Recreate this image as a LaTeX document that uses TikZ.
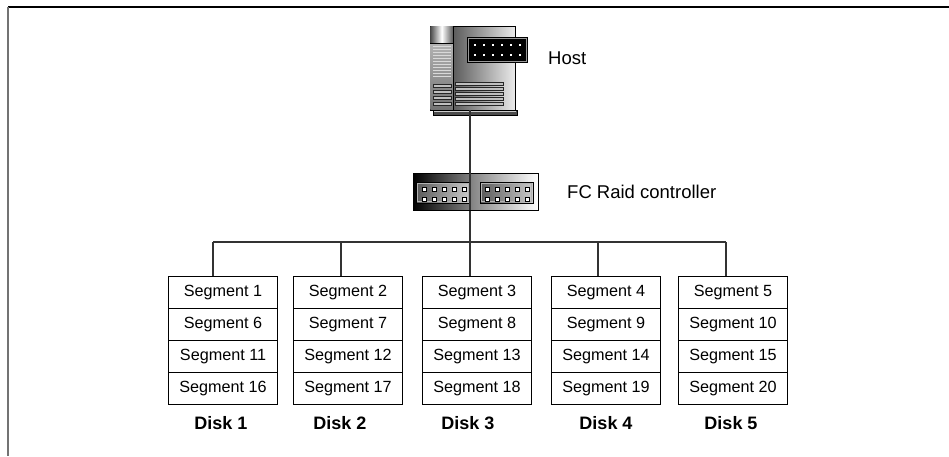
\documentclass[tikz,border=0pt]{standalone}
\usepackage{fontspec}
\setmainfont{Liberation Sans}
\begin{document}
\begin{tikzpicture}[x=1pt,y=-1pt,
  seg/.style={draw=black, line width=1.1pt, minimum width=109pt, minimum height=32pt,
    inner sep=0pt, anchor=north west, font=\fontsize{16.2}{19}\selectfont},
  disklabel/.style={inner sep=0pt, font=\fontsize{18}{21}\selectfont\bfseries},
  lbl/.style={inner sep=0pt, anchor=west, font=\fontsize{18.5}{22}\selectfont},
  wire/.style={draw=black!80, line width=1.2pt},
  slat/.style={draw=black!85, line width=0.5pt, fill=black!25},
  led/.style={draw=black, line width=0.5pt, fill=white},
  panel/.style={draw=black, line width=0.8pt, left color=black!65, right color=black!20},
]
\useasboundingbox (0,0) rectangle (949,456);
\fill[white] (0,0) rectangle (949,456);

% page frame
\draw[black, line width=1.6pt] (8,7) -- (949,7);
\draw[black!55, line width=2.2pt] (8,7) -- (8,456);

% ---------- host computer ----------
\node[draw=black, line width=0.8pt, minimum width=85pt, minimum height=84pt, inner sep=0pt,
      left color=black!85, right color=black!8] (host) at (472.5,68) {};
% base plate
\fill[black!70] (433,110) rectangle (517,115);
\draw[black, line width=0.6pt] (433,110) rectangle (517,115);
\fill[black!20] (434,110.5) rectangle (516,111.5);
% side column
\shade[top color=black!30, bottom color=black!55] (430.4,43) rectangle (453,109.6);
\foreach \yy in {46,49,...,76} \draw[black!15, line width=0.7pt] (433,\yy) -- (451,\yy);
\shade[left color=black!70, right color=black!65, middle color=white] (430.4,26.4) rectangle (453,43);
\draw[black, line width=0.5pt] (430.4,43) -- (453,43);
\draw[black, line width=0.5pt] (453,26.4) -- (453,109.6);
% vent slats
\foreach \yy in {84,90,96,102} \draw[slat] (433,\yy) rectangle (451,\yy+3.5);
\foreach \yy in {82,87,92,97,102} \draw[slat] (455,\yy) rectangle (503,\yy+3);
% port panel
\fill[black] (467,37) rectangle (528,63);
\draw[black!40, line width=0.5pt] (468.5,38.5) rectangle (526.5,61.5);
\foreach \xx in {0,...,5} {
  \draw[led] (473+9*\xx,43) rectangle (476.5+9*\xx,46.5);
  \draw[led] (473+9*\xx,53) rectangle (476.5+9*\xx,56.5);
}
\node[lbl] (hostlbl) at (548,58) {Host};

% ---------- trunk from host to the disk bus ----------
\coordinate (trunk) at (470,242);
\draw[wire] (host.south -| trunk) -- (trunk);

% ---------- FC RAID controller ----------
\node[draw=black, line width=0.8pt, minimum width=125pt, minimum height=37pt, inner sep=0pt,
      left color=black, right color=white, middle color=black!45] (ctrl) at (475.5,191.5) {};
\draw[panel] (416,182) rectangle (470,203);
\draw[panel] (480,182) rectangle (533,203);
\draw[white!70!black, line width=0.4pt] (417.5,183.5) rectangle (468.5,201.5);
\draw[white!70!black, line width=0.4pt] (481.5,183.5) rectangle (531.5,201.5);
\foreach \xx in {0,...,4} {
  \draw[led] (422+10*\xx,187) rectangle (426+10*\xx,191);
  \draw[led] (422+10*\xx,197) rectangle (426+10*\xx,201) ;
  \draw[led] (485+10*\xx,187) rectangle (489+10*\xx,191);
  \draw[led] (485+10*\xx,197) rectangle (489+10*\xx,201);
}
\draw[wire] (ctrl.north -| trunk) -- (ctrl.south -| trunk);
\node[lbl] (ctrllbl) at (567,192) {FC Raid controller};

% ---------- disks ----------
\foreach \d/\x/\jx/\lx in {1/168/213/221, 2/293/341/340, 3/422/470/468, 4/551/598/606, 5/678/726/731} {
  \foreach \r in {1,...,4} {
    \pgfmathtruncatemacro{\segno}{\d + 5*(\r-1)}
    \node[seg] (d\d s\r) at (\x,276+32*\r-32) {Segment \segno};
  }
  \coordinate (j\d) at (\jx,242);
  \draw[wire] (j\d) -- (j\d |- d\d s1.north);
  \node[disklabel] (disk\d) at (\lx,423) {Disk \d};
}
% disk bus
\draw[wire] (j1) -- (j5);
\end{tikzpicture}
\end{document}
